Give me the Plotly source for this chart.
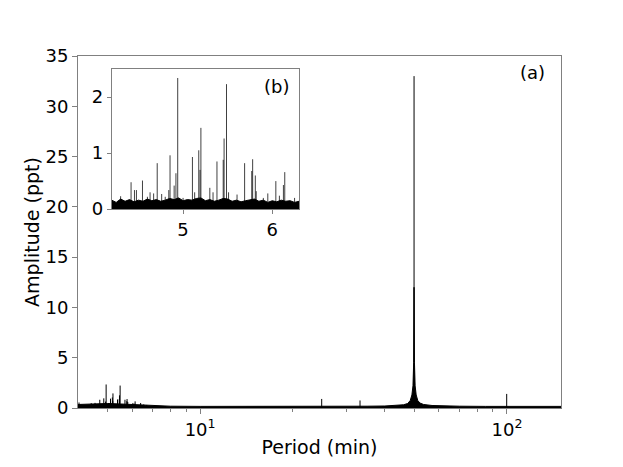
import plotly.graph_objects as go

# sharp peaks (period in min, amplitude in ppt)
PEAK_PERIOD = [
    4.03, 4.12, 4.30, 4.417, 4.455, 4.477, 4.545, 4.60, 4.63, 4.67,
    4.71, 4.76, 4.80, 4.84, 4.854, 4.90, 4.92, 4.94, 5.00, 5.105,
    5.13, 5.176, 5.19, 5.20, 5.30, 5.336, 5.38, 5.45, 5.46, 5.487,
    5.51, 5.605, 5.69, 5.77, 5.78, 5.81, 5.82, 5.90, 5.95, 6.04,
    6.08, 6.125, 6.14, 6.25, 6.40, 6.55, 6.70, 7.10, 24.9, 33.2,
    49.8, 99.8,
]
PEAK_AMP = [
    0.55, 0.30, 0.23, 0.48, 0.34, 0.34, 0.51, 0.22, 0.30, 0.28,
    0.82, 0.27, 0.22, 0.34, 0.96, 0.42, 0.64, 2.34, 0.20, 0.93,
    0.30, 1.05, 0.70, 1.45, 0.38, 0.30, 0.85, 0.88, 1.26, 2.23,
    0.30, 0.26, 0.82, 0.68, 0.89, 0.60, 0.32, 0.20, 0.28, 0.50,
    0.24, 0.43, 0.66, 0.20, 0.50, 0.35, 0.30, 0.20, 0.90, 0.75,
    33.0, 1.40,
]

# noise floor envelope over the full range (incl. the base of the main peak)
FLOOR_PERIOD = [
    4.0, 4.3, 4.6, 5.0, 5.5, 6.0, 6.5, 7.0, 8.0, 10.0,
    13.0, 16.0, 20.0, 25.0, 30.0, 35.0, 40.0, 44.0, 46.0, 47.5,
    48.4, 49.0, 49.4, 49.65, 49.8, 49.95, 50.2, 50.6, 51.2, 52.0,
    53.5, 57.0, 62.0, 70.0, 85.0, 100.0, 120.0, 150.0,
]
FLOOR_AMP = [
    0.35, 0.40, 0.45, 0.45, 0.40, 0.35, 0.30, 0.25, 0.18, 0.16,
    0.15, 0.17, 0.15, 0.17, 0.16, 0.18, 0.20, 0.25, 0.32, 0.45,
    0.75, 1.30, 2.20, 4.50, 12.0, 4.50, 2.20, 1.30, 0.75, 0.50,
    0.35, 0.25, 0.20, 0.18, 0.16, 0.18, 0.16, 0.16,
]

# finer noise floor for the zoomed panel (b)
INSET_FLOOR_PERIOD = [
    4.20, 4.25, 4.30, 4.35, 4.40, 4.45, 4.50, 4.55, 4.60, 4.65,
    4.70, 4.75, 4.80, 4.85, 4.90, 4.95, 5.00, 5.05, 5.10, 5.15,
    5.20, 5.25, 5.30, 5.35, 5.40, 5.45, 5.50, 5.55, 5.60, 5.65,
    5.70, 5.75, 5.80, 5.85, 5.90, 5.95, 6.00, 6.05, 6.10, 6.15,
    6.20, 6.25, 6.30,
]
INSET_FLOOR_AMP = [
    0.16, 0.12, 0.18, 0.14, 0.17, 0.13, 0.16, 0.14, 0.18, 0.15,
    0.17, 0.14, 0.16, 0.19, 0.17, 0.20, 0.15, 0.17, 0.16, 0.19,
    0.20, 0.15, 0.17, 0.14, 0.16, 0.19, 0.18, 0.14, 0.16, 0.13,
    0.15, 0.17, 0.18, 0.14, 0.16, 0.12, 0.15, 0.13, 0.16, 0.14,
    0.15, 0.12, 0.14,
]

MAIN_MINOR = [5, 6, 7, 8, 9, 20, 30, 40, 50, 60, 70, 80, 90]

SPINE = '#808080'
FONT = 'DejaVu Sans'


def stems(xs, ys):
    """Vertical lines from zero up to each peak, separated by gaps."""
    sx, sy = [], []
    for x, y in zip(xs, ys):
        sx += [x, x, None]
        sy += [0, y, None]
    return sx, sy


fig = go.Figure()

# panel (a)
fig.add_trace(go.Scatter(
    x=FLOOR_PERIOD, y=FLOOR_AMP, mode='lines', fill='tozeroy',
    line=dict(color='black', width=1), fillcolor='black',
    showlegend=False, hoverinfo='skip'))
sx, sy = stems(PEAK_PERIOD, PEAK_AMP)
fig.add_trace(go.Scatter(
    x=sx, y=sy, mode='lines', line=dict(color='black', width=1),
    showlegend=False, hoverinfo='skip'))

# panel (b)
fig.add_trace(go.Scatter(
    x=INSET_FLOOR_PERIOD, y=INSET_FLOOR_AMP, mode='lines', fill='tozeroy',
    line=dict(color='black', width=1), fillcolor='black',
    xaxis='x2', yaxis='y2', showlegend=False, hoverinfo='skip'))
fig.add_trace(go.Scatter(
    x=sx, y=sy, mode='lines', line=dict(color='rgba(0,0,0,0.75)', width=1),
    xaxis='x2', yaxis='y2', showlegend=False, hoverinfo='skip'))

tickfont = dict(family=FONT, size=18, color='black')

# page body adds 8px, so the margins are shifted to keep the plot in place
fig.update_layout(
    width=623, height=467, autosize=False,
    margin=dict(l=70, r=70, t=48, b=67),
    paper_bgcolor='white', plot_bgcolor='white',
    font=dict(family=FONT, size=18, color='black'),
    xaxis=dict(
        type='log', range=[0.60206, 2.17609],
        showline=True, linecolor=SPINE, linewidth=1, mirror=True,
        ticks='outside', ticklen=5, tickcolor=SPINE,
        tickvals=[10, 100], ticktext=['10<sup>1</sup>', '10<sup>2</sup>'],
        minor=dict(tickvals=MAIN_MINOR, ticks='outside', ticklen=2.5,
                   tickcolor=SPINE),
        showgrid=False, zeroline=False, tickfont=tickfont,
        title=dict(text='Period (min)', font=dict(family=FONT, size=19),
                   standoff=2),
    ),
    yaxis=dict(
        range=[0, 35], dtick=5,
        showline=True, linecolor=SPINE, linewidth=1, mirror=True,
        ticks='outside', ticklen=5, tickcolor=SPINE,
        showgrid=False, zeroline=False, tickfont=tickfont,
        title=dict(text='Amplitude (ppt)', font=dict(family=FONT, size=19),
                   standoff=0),
    ),
    xaxis2=dict(
        domain=[0.0698, 0.4576], anchor='y2', range=[4.2, 6.3],
        tickvals=[5, 6],
        showline=True, linecolor=SPINE, linewidth=1, mirror=True,
        ticks='outside', ticklen=4, tickcolor=SPINE,
        showgrid=False, zeroline=False, tickfont=tickfont,
    ),
    yaxis2=dict(
        domain=[0.565, 0.963], anchor='x2', range=[0, 2.5],
        tickvals=[0, 1, 2],
        showline=True, linecolor=SPINE, linewidth=1, mirror=True,
        ticks='outside', ticklen=4, tickcolor=SPINE,
        showgrid=False, zeroline=False, tickfont=tickfont,
    ),
    annotations=[
        dict(text='(a)', xref='paper', yref='paper', x=0.940, y=0.952,
             xanchor='center', yanchor='middle', showarrow=False,
             font=dict(family=FONT, size=18)),
        dict(text='(b)', xref='paper', yref='paper', x=0.412, y=0.912,
             xanchor='center', yanchor='middle', showarrow=False,
             font=dict(family=FONT, size=18)),
    ],
)

fig.write_html("out.html")
